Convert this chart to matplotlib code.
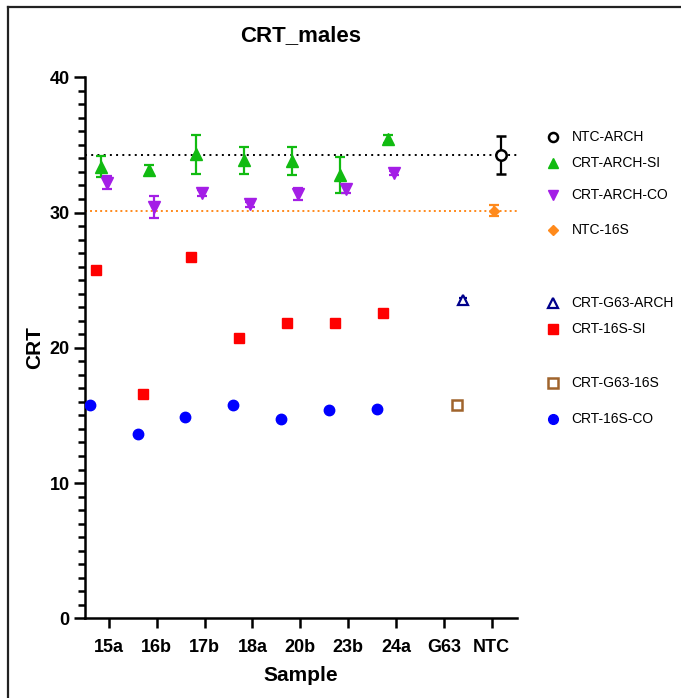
import matplotlib
matplotlib.use("Agg")
import matplotlib.pyplot as plt
from matplotlib.lines import Line2D
from matplotlib.ticker import MultipleLocator
import numpy as np

plt.rcParams['font.family'] = ['Liberation Sans', 'DejaVu Sans']

# ---------------- data ----------------
samples = ['15a', '16b', '17b', '18a', '20b', '23b', '24a', 'G63', 'NTC']
crt_samples = ['15a', '16b', '17b', '18a', '20b', '23b', '24a']

crt_arch_si = [33.4, 33.15, 34.3, 33.85, 33.8, 32.8, 35.45]
crt_arch_si_err = [0.8, 0.37, 1.42, 1.03, 1.05, 1.33, 0.3]
crt_arch_co = [32.2, 30.4, 31.45, 30.6, 31.35, 31.75, 32.95]
crt_arch_co_err = [0.47, 0.8, 0.22, 0.2, 0.45, 0.3, 0.15]
crt_16s_si = [25.75, 16.55, 26.75, 20.7, 21.85, 21.85, 22.6]
crt_16s_co = [15.8, 13.65, 14.9, 15.75, 14.75, 15.4, 15.45]

g63_arch = [23.5]
g63_arch_err = [0.15]
g63_16s = [15.75]
g63_16s_err = [0.02]

ntc_arch = [34.25]
ntc_arch_err = [1.38]
ntc_16s = [30.15]
ntc_16s_err = [0.38]

# ---------------- styling / layout ----------------
offsets = {'16S-CO': -0.40, '16S-SI': -0.28, 'ARCH-SI': -0.17, 'ARCH-CO': -0.05,
           'NTC-16S': 0.05, 'NTC-ARCH': 0.19, 'G63-16S': 0.28, 'G63-ARCH': 0.40}
c_green = '#11BB11'
c_purple = '#A41EE6'
c_orange = '#FF8A1C'
c_red = '#FF0000'
c_blue = '#0000FF'
c_navy = '#00008B'
c_brown = '#A0642C'

W, H = 681, 698
fig = plt.figure(figsize=(W / 100, H / 100), dpi=100)
ax_l, ax_r, ax_t, ax_b = 85, 517, 77.3, 618.3
ax = fig.add_axes([ax_l / W, 1 - ax_b / H, (ax_r - ax_l) / W, (ax_b - ax_t) / H])

idx = {s: i for i, s in enumerate(samples)}
xc = np.array([idx[s] for s in crt_samples], dtype=float)

ebkw = dict(elinewidth=1.6, capsize=3.6, capthick=1.6, linestyle='none')

ax.errorbar(xc + offsets['16S-CO'], crt_16s_co, fmt='o', color=c_blue, ms=7.5, zorder=3, linestyle='none')
ax.errorbar(xc + offsets['16S-SI'], crt_16s_si, fmt='s', color=c_red, ms=7.5, zorder=3, linestyle='none')
ax.errorbar(xc + offsets['ARCH-SI'], crt_arch_si, yerr=crt_arch_si_err, fmt='^', color=c_green,
            ms=8, zorder=4, **ebkw)
ax.errorbar(xc + offsets['ARCH-CO'], crt_arch_co, yerr=crt_arch_co_err, fmt='v', color=c_purple,
            ms=8, zorder=4, **ebkw)

xg = idx['G63']
ax.errorbar([xg + offsets['G63-ARCH']], g63_arch, yerr=g63_arch_err, fmt='^', mfc='white',
            mec=c_navy, mew=1.6, color=c_navy, ms=7, zorder=4, elinewidth=1.4, capsize=3.2,
            capthick=1.6, linestyle='none')
ax.errorbar([xg + offsets['G63-16S']], g63_16s, yerr=g63_16s_err, fmt='s', mfc='white',
            mec=c_brown, mew=1.8, color=c_brown, ms=7, zorder=4, elinewidth=1.4, capsize=3.2,
            capthick=1.6, linestyle='none')

xn = idx['NTC']
ax.errorbar([xn + offsets['NTC-ARCH']], ntc_arch, yerr=ntc_arch_err, fmt='o', mfc='white',
            mec='black', mew=1.8, color='black', ms=7.5, zorder=4, **ebkw)
ax.errorbar([xn + offsets['NTC-16S']], ntc_16s, yerr=ntc_16s_err, fmt='D', color=c_orange,
            ms=5.5, zorder=4, **ebkw)

ax.axhline(ntc_arch[0], color='black', ls=(0, (1, 2.2)), lw=1.4, zorder=2)
ax.axhline(ntc_16s[0], color=c_orange, ls=(0, (1, 1.6)), lw=1.4, zorder=2)

ax.set_xlim(-0.5, 8.53)
ax.set_ylim(0, 40)
ax.set_xticks(range(len(samples)))
ax.set_xticklabels(samples, fontsize=13, fontweight='bold')
ax.yaxis.set_major_locator(MultipleLocator(10))
ax.yaxis.set_minor_locator(MultipleLocator(1))
for lab in ax.get_yticklabels():
    lab.set_fontsize(13)
    lab.set_fontweight('bold')
ax.tick_params(axis='y', which='major', length=8, width=1.8, pad=3)
ax.tick_params(axis='y', which='minor', length=5, width=1.8)
ax.tick_params(axis='x', which='major', length=7, width=1.8, pad=8)
for s in ['top', 'right']:
    ax.spines[s].set_visible(False)
for s in ['left', 'bottom']:
    ax.spines[s].set_linewidth(1.8)

ax.set_ylabel('CRT', fontsize=15, fontweight='bold', labelpad=4)
ax.set_xlabel('Sample', fontsize=15, fontweight='bold', labelpad=7)
ax.set_title('CRT_males', fontsize=16, fontweight='bold', pad=26)

# ---------------- legend (manual placement) ----------------
legend_items = [
    ('NTC-ARCH', dict(marker='o', mfc='white', mec='black', mew=1.8, ms=6.5), 137.3),
    ('CRT-ARCH-SI', dict(marker='^', color=c_green, ms=7.5), 163.3),
    ('CRT-ARCH-CO', dict(marker='v', color=c_purple, ms=7.5), 195.0),
    ('NTC-16S', dict(marker='D', color=c_orange, ms=5), 230.0),
    ('CRT-G63-ARCH', dict(marker='^', mfc='white', mec=c_navy, mew=1.6, ms=6.5), 303.3),
    ('CRT-16S-SI', dict(marker='s', color=c_red, ms=7), 329.3),
    ('CRT-G63-16S', dict(marker='s', mfc='white', mec=c_brown, mew=1.8, ms=6.5), 383.3),
    ('CRT-16S-CO', dict(marker='o', color=c_blue, ms=7), 419.3),
]
for label, mk, py in legend_items:
    fy = 1 - py / H
    fig.add_artist(Line2D([552.7 / W], [fy], linestyle='none', transform=fig.transFigure, **mk))
    fig.text(571.7 / W, fy, label, fontsize=10, va='center', ha='left')

# page frame (left and top border)
fig.add_artist(Line2D([8 / W, 8 / W], [0, 1 - 7 / H], color='#222222', lw=1.6, transform=fig.transFigure))
fig.add_artist(Line2D([8 / W, 1], [1 - 7 / H, 1 - 7 / H], color='#222222', lw=1.6, transform=fig.transFigure))

fig.savefig('out.png', dpi=100)
